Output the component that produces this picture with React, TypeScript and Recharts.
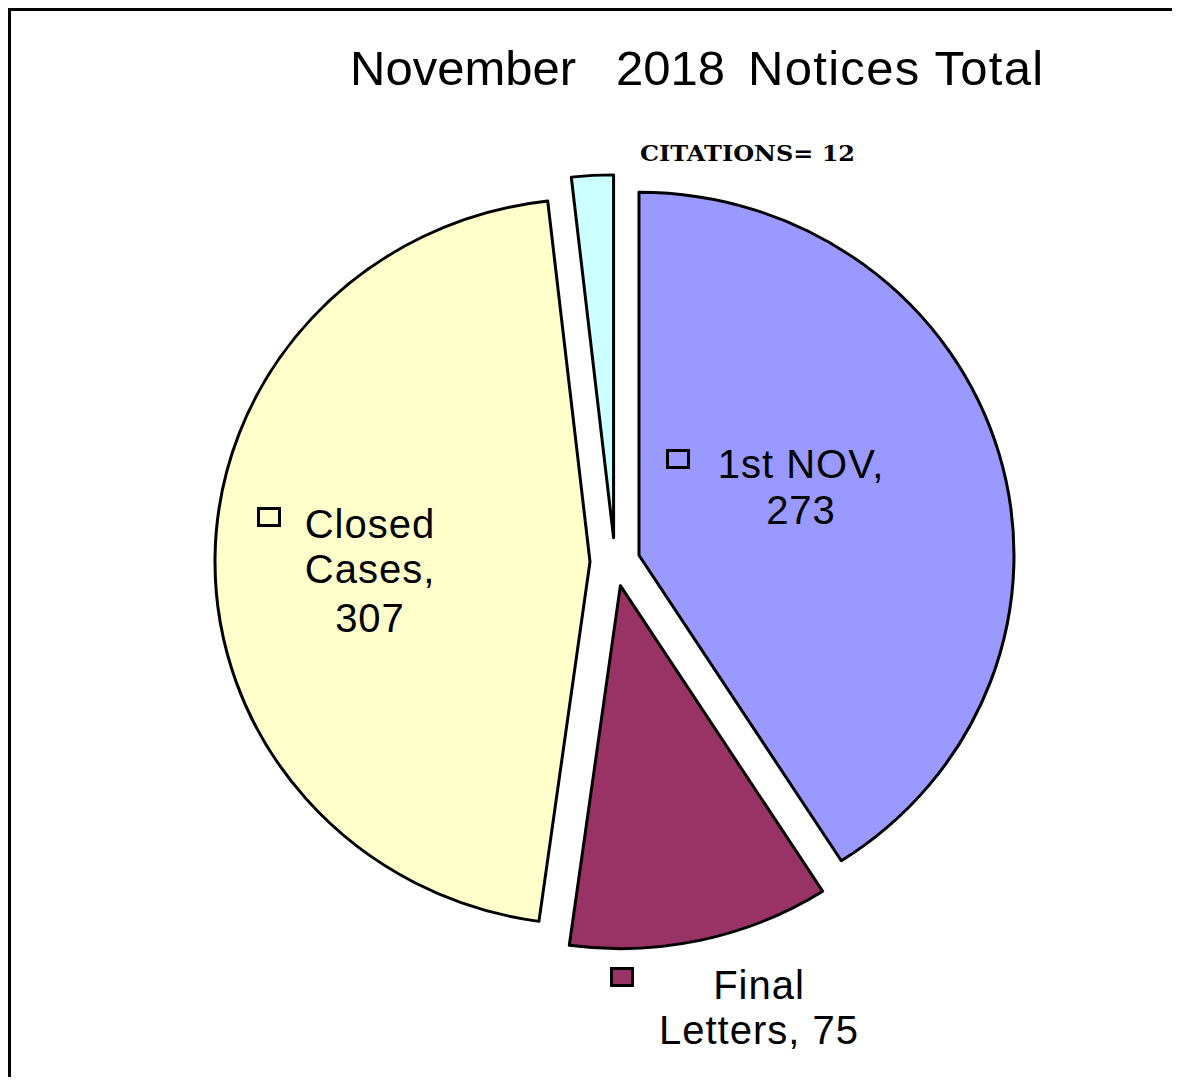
import React from 'react';
import { PieChart, Pie, Sector } from 'recharts';

const categories = ['1st NOV', 'Final Letters', 'Closed Cases', 'Citations'];
const values = [273, 75, 307, 12];

const COLORS = ['#9999ff', '#993366', '#ffffcc', '#ccffff'];

const data = categories.map((name, i) => ({ name, value: values[i] }));

const W = 1169;
const H = 1066;
const CX = 604;
const CY = 551;
const R = 375;
const K = 0.968; // pie is slightly squashed vertically
const EXPLODE = 25;
const FONT = '"Liberation Sans", Arial, sans-serif';

// data label layout, relative to the pie centre
const LABELS: any[] = [
  { key: [51, -113], x: 186, y: [-84, -38], words: [2, 1] },
  { key: [-5, 405], x: 144, y: [437, 482], words: [1, 2] },
  { key: [-358, -55], x: -245, y: [-24, 21, 70], words: [1, 1, 1] },
  { x: 25, y: -401 },
];

const renderSlice = (props: any) => {
  const { cx, cy, midAngle, startAngle, endAngle, outerRadius, index } = props;
  const name = props.name ?? categories[index];
  const value = props.value ?? values[index];
  const rad = (-midAngle * Math.PI) / 180;
  const ox = cx + EXPLODE * Math.cos(rad);
  const oy = cy + EXPLODE * Math.sin(rad);
  const lay = LABELS[index];

  let text: React.ReactNode = null;
  if (index === 3) {
    text = (
      <text x={cx + lay.x} y={cy + lay.y} fontFamily='"DejaVu Serif", serif' fontWeight="bold"
        fontSize={22} textLength={215} lengthAdjust="spacingAndGlyphs" fill="#000">
        {`${String(name).toUpperCase()}= ${value}`}
      </text>
    );
  } else {
    const words = `${name}, ${value}`.split(' ');
    let w = 0;
    const lines = lay.words.map((n: number) => {
      const l = words.slice(w, w + n).join(' ');
      w += n;
      return l;
    });
    text = (
      <g>
        <rect x={cx + lay.key[0] + 1.5} y={cy + lay.key[1] + 1.5} width={21} height={17}
          fill={COLORS[index]} stroke="#000" strokeWidth={3} />
        {lines.map((l: string, j: number) => (
          <text key={j} x={cx + lay.x} y={cy + lay.y[j]} textAnchor="middle" fontFamily={FONT}
            fontSize={40} letterSpacing={1} fill="#000">
            {l}
          </text>
        ))}
      </g>
    );
  }

  return (
    <g key={`slice-${index}`}>
      <g transform={`translate(0 ${cy * (1 - K)}) scale(1 ${K})`}>
        <Sector cx={ox} cy={oy} innerRadius={0} outerRadius={outerRadius}
          startAngle={startAngle} endAngle={endAngle}
          fill={COLORS[index]} stroke="#000" strokeWidth={3} strokeLinejoin="round" />
      </g>
      {text}
    </g>
  );
};

export default function App() {
  return (
    <div style={{ borderTop: '3px solid #000', borderLeft: '3px solid #000', width: W, height: H, background: '#fff' }}>
      <PieChart width={W} height={H} margin={{ top: 0, right: 0, bottom: 0, left: 0 }}>
        <text x={339} y={74} fontFamily={FONT} fontSize={49} fill="#000">November</text>
        <text x={605} y={74} fontFamily={FONT} fontSize={49} fill="#000">2018</text>
        <text x={737} y={74} fontFamily={FONT} fontSize={49} letterSpacing={1.3} fill="#000">Notices Total</text>
        <Pie
          data={data}
          dataKey="value"
          nameKey="name"
          cx={CX}
          cy={CY}
          innerRadius={0}
          outerRadius={R}
          startAngle={90}
          endAngle={-270}
          fill="none"
          stroke="none"
          label={renderSlice}
          labelLine={false}
          isAnimationActive={false}
        />
      </PieChart>
    </div>
  );
}
